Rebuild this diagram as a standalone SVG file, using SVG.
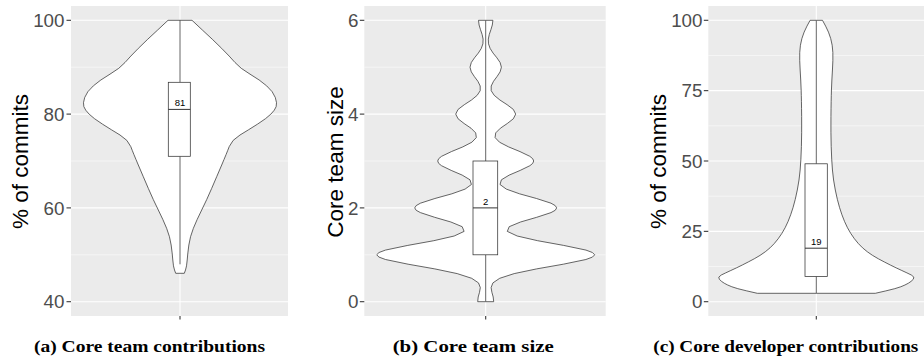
<svg xmlns="http://www.w3.org/2000/svg" xmlns:xlink="http://www.w3.org/1999/xlink" width="924" height="360" viewBox="0 0 924 360">
<style>
.panel{fill:#EBEBEB}
.gmaj{stroke:#FFFFFF;stroke-width:1.07}
.gmin{stroke:#FFFFFF;stroke-width:0.53}
.tick{stroke:#333333;stroke-width:1.07}
.tl{font-family:"Liberation Sans",Arial,sans-serif;font-size:18.8px;fill:#4D4D4D;text-anchor:end}
.at{font-family:"Liberation Sans",Arial,sans-serif;font-size:22.5px;fill:#000000;text-anchor:middle}
.vf{fill:#FFFFFF;stroke:none}
.vs{fill:none;stroke:#333333;stroke-width:0.75;stroke-linejoin:round}
.box{fill:#FFFFFF;stroke:#333333;stroke-width:0.75}
.wh{stroke:#333333;stroke-width:0.75}
.med{stroke:#333333;stroke-width:1}
.bl{font-family:"Liberation Sans",Arial,sans-serif;font-size:9.5px;fill:#000000;text-anchor:middle}
.cap{font-family:"Liberation Serif","Times New Roman",serif;font-weight:bold;font-size:16.5px;fill:#000000}
</style>
<defs>
<g id="va-half">
<path class="vf" d="M0,20.3 H12 L22.5,30.15 Q33.3,40 41.65,48.35 Q50,56.7 55,62.5 Q60,68.3 70,74.15 Q80,80 86.65,85.85 Q93.3,91.7 95.3,97.5 Q97.3,103.3 96.15,106.65 Q95,110 90.85,114.15 Q86.7,118.3 77.5,124.15 Q68.3,130 60,135 Q51.7,140 49.2,146.65 Q46.7,153.3 41.7,165 Q36.7,176.7 31.7,188.35 Q26.7,200 21.7,210 Q16.7,220 13.35,228.35 Q10,236.7 8.85,245 Q7.7,253.3 7.2,260 Q6.7,266.7 5.5,270 L4.3,273.3 H0 Z"/>
<path class="vs" d="M0,20.3 H12 L22.5,30.15 Q33.3,40 41.65,48.35 Q50,56.7 55,62.5 Q60,68.3 70,74.15 Q80,80 86.65,85.85 Q93.3,91.7 95.3,97.5 Q97.3,103.3 96.15,106.65 Q95,110 90.85,114.15 Q86.7,118.3 77.5,124.15 Q68.3,130 60,135 Q51.7,140 49.2,146.65 Q46.7,153.3 41.7,165 Q36.7,176.7 31.7,188.35 Q26.7,200 21.7,210 Q16.7,220 13.35,228.35 Q10,236.7 8.85,245 Q7.7,253.3 7.2,260 Q6.7,266.7 5.5,270 L4.3,273.3 H0"/>
</g>
<g id="vb-half">
<path class="vf" d="M0,20.3 L7.2,20.3 L6.6,25 L5.2,29.7 L3.6,34.4 L2.6,39.1 L2.8,43.8 L4.4,48.4 L7.4,53.1 L11.2,57.8 L14.4,62.5 L15.7,67.2 L14.4,71.9 L11.3,76.6 L7.8,81.3 L5.5,86 L5.5,90.7 L8.5,95.3 L14.2,100 L21.4,104.7 L27.6,109.4 L30,114.1 L27.6,118.8 L21.6,123.5 L14.7,128.2 L10,132.9 L9.4,137.6 L13.8,142.2 L22.9,146.9 L34.3,151.6 L44.1,156.3 L47,158.7 L48,161 L47,163.4 L44.2,165.7 L34.5,170.4 L23.5,175.1 L15.7,179.8 L14.3,184.5 L20.6,189.1 L33.8,193.8 L50.8,198.5 L65.3,203.2 L69.5,205.6 L71,207.9 L69.5,210.3 L65.3,212.6 L51,217.3 L34.8,222 L23.5,226.7 L21.6,231.4 L31.5,236 L51.9,240.7 L77.9,245.4 L100.3,250.1 L106.7,252.5 L109,254.8 L106.7,257.1 L100.2,259.5 L77.6,264.2 L50.9,268.9 L28.5,273.6 L14,278.3 L7.2,282.9 L5.4,287.6 L6.2,292.3 L7.5,297 L8,301.7 L0,301.7 Z"/>
<path class="vs" d="M0,20.3 L7.2,20.3 L6.6,25 L5.2,29.7 L3.6,34.4 L2.6,39.1 L2.8,43.8 L4.4,48.4 L7.4,53.1 L11.2,57.8 L14.4,62.5 L15.7,67.2 L14.4,71.9 L11.3,76.6 L7.8,81.3 L5.5,86 L5.5,90.7 L8.5,95.3 L14.2,100 L21.4,104.7 L27.6,109.4 L30,114.1 L27.6,118.8 L21.6,123.5 L14.7,128.2 L10,132.9 L9.4,137.6 L13.8,142.2 L22.9,146.9 L34.3,151.6 L44.1,156.3 L47,158.7 L48,161 L47,163.4 L44.2,165.7 L34.5,170.4 L23.5,175.1 L15.7,179.8 L14.3,184.5 L20.6,189.1 L33.8,193.8 L50.8,198.5 L65.3,203.2 L69.5,205.6 L71,207.9 L69.5,210.3 L65.3,212.6 L51,217.3 L34.8,222 L23.5,226.7 L21.6,231.4 L31.5,236 L51.9,240.7 L77.9,245.4 L100.3,250.1 L106.7,252.5 L109,254.8 L106.7,257.1 L100.2,259.5 L77.6,264.2 L50.9,268.9 L28.5,273.6 L14,278.3 L7.2,282.9 L5.4,287.6 L6.2,292.3 L7.5,297 L8,301.7 L0,301.7"/>
</g>
<g id="vc-half">
<path class="vf" d="M0,20.3 H6.2 L9.35,26.15 Q12.5,32 14.4,38.5 Q16.3,45 16.55,52.5 Q16.8,60 16.15,70 Q15.5,80 15.15,90 Q14.8,100 14.65,116.5 Q14.5,133 14.9,146.5 Q15.3,160 16.15,170 Q17,180 19,190 Q21,200 23.25,207.5 Q25.5,215 28.25,221.5 Q31,228 34.5,233.5 Q38,239 42,243.5 Q46,248 51,251.75 Q56,255.5 62,258.75 Q68,262 74,265 Q80,268 85.5,270.5 Q91,273 95,275 Q99,277 97,279.25 Q95,281.5 92,283.25 Q89,285 84.5,286.75 Q80,288.5 69.5,290.9 L59,293.3 H0 Z"/>
<path class="vs" d="M0,20.3 H6.2 L9.35,26.15 Q12.5,32 14.4,38.5 Q16.3,45 16.55,52.5 Q16.8,60 16.15,70 Q15.5,80 15.15,90 Q14.8,100 14.65,116.5 Q14.5,133 14.9,146.5 Q15.3,160 16.15,170 Q17,180 19,190 Q21,200 23.25,207.5 Q25.5,215 28.25,221.5 Q31,228 34.5,233.5 Q38,239 42,243.5 Q46,248 51,251.75 Q56,255.5 62,258.75 Q68,262 74,265 Q80,268 85.5,270.5 Q91,273 95,275 Q99,277 97,279.25 Q95,281.5 92,283.25 Q89,285 84.5,286.75 Q80,288.5 69.5,290.9 L59,293.3 H0"/>
</g>
</defs>
<rect width="924" height="360" fill="#FFFFFF"/>

<g id="panel-a">
<rect class="panel" x="71" y="6" width="217" height="310"/>
<line class="gmin" x1="71" y1="67.2" x2="288" y2="67.2"/>
<line class="gmin" x1="71" y1="161" x2="288" y2="161"/>
<line class="gmin" x1="71" y1="254.8" x2="288" y2="254.8"/>
<line class="gmaj" x1="71" y1="20.3" x2="288" y2="20.3"/>
<line class="gmaj" x1="71" y1="114.1" x2="288" y2="114.1"/>
<line class="gmaj" x1="71" y1="207.9" x2="288" y2="207.9"/>
<line class="gmaj" x1="71" y1="301.7" x2="288" y2="301.7"/>
<line class="gmaj" x1="180" y1="6" x2="180" y2="316"/>
<use xlink:href="#va-half" transform="translate(180,0)"/>
<use xlink:href="#va-half" transform="translate(180,0) scale(-1,1)"/>
<line class="wh" x1="180" y1="20.3" x2="180" y2="82.3"/>
<line class="wh" x1="180" y1="156.3" x2="180" y2="264.3"/>
<rect class="box" x="168.3" y="82.3" width="22" height="74"/>
<line class="med" x1="168.3" y1="109.4" x2="190.3" y2="109.4"/>
<text class="bl" x="180" y="106">81</text>
<line class="tick" x1="66.5" y1="20.3" x2="71" y2="20.3"/>
<line class="tick" x1="66.5" y1="114.1" x2="71" y2="114.1"/>
<line class="tick" x1="66.5" y1="207.9" x2="71" y2="207.9"/>
<line class="tick" x1="66.5" y1="301.7" x2="71" y2="301.7"/>
<line class="tick" x1="180" y1="316" x2="180" y2="319.5"/>
<text class="tl" x="64.5" y="27">100</text>
<text class="tl" x="64.5" y="120.8">80</text>
<text class="tl" x="64.5" y="214.6">60</text>
<text class="tl" x="64.5" y="308.4">40</text>
<text class="at" transform="translate(28.3,161.5) rotate(-90)">% of commits</text>
<text class="cap" x="34" y="352" textLength="231" lengthAdjust="spacingAndGlyphs">(a) Core team contributions</text>
</g>

<g id="panel-b">
<rect class="panel" x="364.3" y="6" width="241.4" height="310"/>
<line class="gmin" x1="364.3" y1="67.2" x2="605.7" y2="67.2"/>
<line class="gmin" x1="364.3" y1="161" x2="605.7" y2="161"/>
<line class="gmin" x1="364.3" y1="254.8" x2="605.7" y2="254.8"/>
<line class="gmaj" x1="364.3" y1="20.3" x2="605.7" y2="20.3"/>
<line class="gmaj" x1="364.3" y1="114.1" x2="605.7" y2="114.1"/>
<line class="gmaj" x1="364.3" y1="207.9" x2="605.7" y2="207.9"/>
<line class="gmaj" x1="364.3" y1="301.7" x2="605.7" y2="301.7"/>
<line class="gmaj" x1="485.7" y1="6" x2="485.7" y2="316"/>
<use xlink:href="#vb-half" transform="translate(485.7,0)"/>
<use xlink:href="#vb-half" transform="translate(485.7,0) scale(-1,1)"/>
<line class="wh" x1="485.7" y1="20.3" x2="485.7" y2="161"/>
<line class="wh" x1="485.7" y1="254.8" x2="485.7" y2="301.7"/>
<rect class="box" x="473" y="161" width="24.7" height="93.8"/>
<line class="med" x1="473" y1="207.9" x2="497.7" y2="207.9"/>
<text class="bl" x="485.7" y="204.5">2</text>
<line class="tick" x1="359.8" y1="20.3" x2="364.3" y2="20.3"/>
<line class="tick" x1="359.8" y1="114.1" x2="364.3" y2="114.1"/>
<line class="tick" x1="359.8" y1="207.9" x2="364.3" y2="207.9"/>
<line class="tick" x1="359.8" y1="301.7" x2="364.3" y2="301.7"/>
<line class="tick" x1="485.7" y1="316" x2="485.7" y2="319.5"/>
<text class="tl" x="358.5" y="27">6</text>
<text class="tl" x="358.5" y="120.8">4</text>
<text class="tl" x="358.5" y="214.6">2</text>
<text class="tl" x="358.5" y="308.4">0</text>
<text class="at" transform="translate(343.3,162) rotate(-90)">Core team size</text>
<text class="cap" x="392.7" y="352" textLength="161" lengthAdjust="spacingAndGlyphs">(b) Core team size</text>
</g>

<g id="panel-c">
<rect class="panel" x="708.3" y="6" width="215.7" height="310"/>
<line class="gmin" x1="708.3" y1="55.5" x2="924" y2="55.5"/>
<line class="gmin" x1="708.3" y1="125.8" x2="924" y2="125.8"/>
<line class="gmin" x1="708.3" y1="196.2" x2="924" y2="196.2"/>
<line class="gmin" x1="708.3" y1="266.5" x2="924" y2="266.5"/>
<line class="gmaj" x1="708.3" y1="20.3" x2="924" y2="20.3"/>
<line class="gmaj" x1="708.3" y1="90.65" x2="924" y2="90.65"/>
<line class="gmaj" x1="708.3" y1="161" x2="924" y2="161"/>
<line class="gmaj" x1="708.3" y1="231.35" x2="924" y2="231.35"/>
<line class="gmaj" x1="708.3" y1="301.7" x2="924" y2="301.7"/>
<line class="gmaj" x1="816.3" y1="6" x2="816.3" y2="316"/>
<use xlink:href="#vc-half" transform="translate(816.3,0)"/>
<use xlink:href="#vc-half" transform="translate(816.3,0) scale(-1,1)"/>
<line class="wh" x1="816.3" y1="20.3" x2="816.3" y2="163.8"/>
<line class="wh" x1="816.3" y1="276.4" x2="816.3" y2="293.3"/>
<rect class="box" x="805" y="163.8" width="22.3" height="112.6"/>
<line class="med" x1="805" y1="248.2" x2="827.3" y2="248.2"/>
<text class="bl" x="816.3" y="245">19</text>
<line class="tick" x1="703.8" y1="20.3" x2="708.3" y2="20.3"/>
<line class="tick" x1="703.8" y1="90.65" x2="708.3" y2="90.65"/>
<line class="tick" x1="703.8" y1="161" x2="708.3" y2="161"/>
<line class="tick" x1="703.8" y1="231.35" x2="708.3" y2="231.35"/>
<line class="tick" x1="703.8" y1="301.7" x2="708.3" y2="301.7"/>
<line class="tick" x1="816.3" y1="316" x2="816.3" y2="319.5"/>
<text class="tl" x="702.5" y="27">100</text>
<text class="tl" x="702.5" y="97.35">75</text>
<text class="tl" x="702.5" y="167.7">50</text>
<text class="tl" x="702.5" y="238.05">25</text>
<text class="tl" x="702.5" y="308.4">0</text>
<text class="at" transform="translate(665.5,161.5) rotate(-90)">% of commits</text>
<text class="cap" x="653.3" y="352" textLength="265" lengthAdjust="spacingAndGlyphs">(c) Core developer contributions</text>
</g>
</svg>
